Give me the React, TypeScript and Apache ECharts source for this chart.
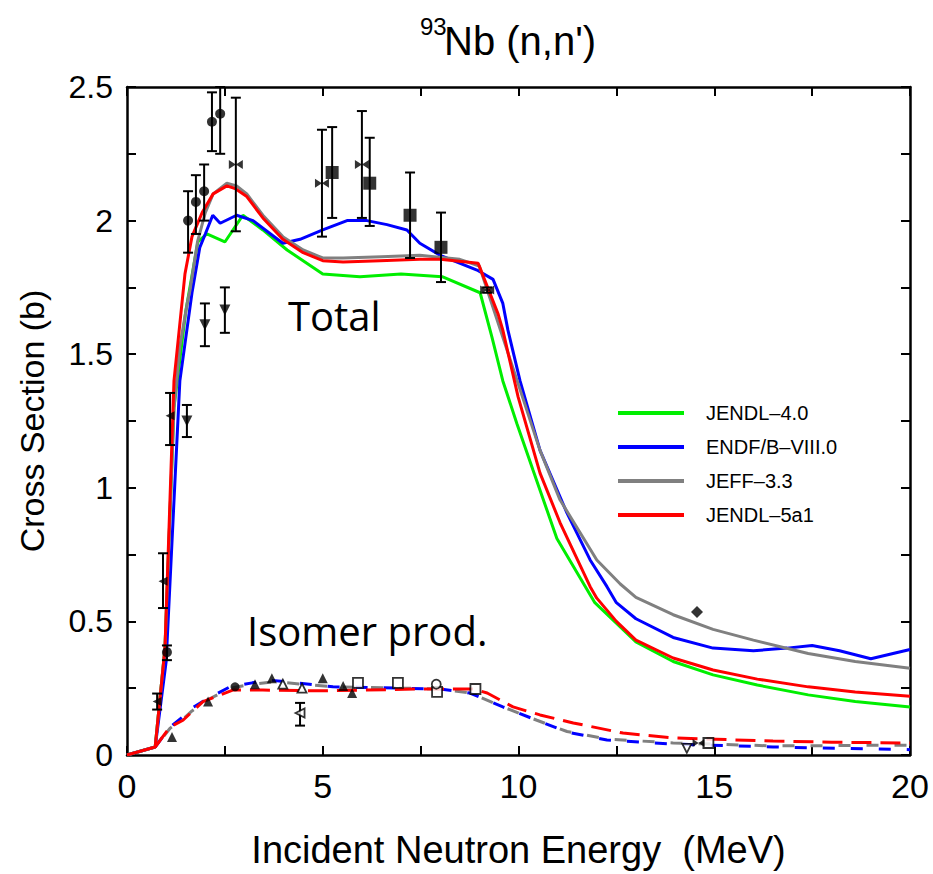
import React, { useEffect, useRef } from "react";
import * as echarts from "echarts";

// ---- Evaluated total (n,n') cross sections ----
const jendl4X = [0, 0.72, 0.97, 1.2, 1.5, 1.81, 2.04, 2.5, 2.96, 3.47, 4.09, 5.0, 5.95, 7.0, 8.05, 9.02, 9.32, 9.6, 9.96, 10.37, 10.98, 11.95, 13.0, 13.95, 14.97, 16.1, 17.4, 18.6, 20];
const jendl4Y = [0, 0.03, 0.4, 1.3, 1.66, 1.92, 1.95, 1.92, 2.02, 1.965, 1.89, 1.8, 1.79, 1.8, 1.79, 1.73, 1.565, 1.4, 1.24, 1.067, 0.81, 0.57, 0.423, 0.35, 0.3, 0.262, 0.225, 0.2, 0.18];

const endfX = [0, 0.72, 1.0, 1.35, 1.66, 1.86, 2.0, 2.19, 2.38, 2.8, 3.22, 3.98, 4.42, 5.0, 5.62, 6.13, 6.64, 7.15, 7.48, 8.0, 8.94, 9.35, 9.6, 9.73, 10.04, 10.55, 11.24, 11.83, 12.26, 12.5, 13.0, 13.95, 14.97, 16.0, 16.86, 17.5, 18.2, 19.0, 20];
const endfY = [0, 0.03, 0.35, 1.4, 1.73, 1.9, 1.95, 2.02, 1.99, 2.02, 2.0, 1.915, 1.93, 1.965, 2.0, 2.0, 1.985, 1.965, 1.915, 1.87, 1.815, 1.78, 1.69, 1.59, 1.4, 1.14, 0.905, 0.73, 0.63, 0.57, 0.51, 0.44, 0.4, 0.39, 0.4, 0.41, 0.39, 0.36, 0.395];

const jeffX = [0, 0.72, 0.97, 1.2, 1.35, 1.55, 1.61, 1.8, 2.0, 2.2, 2.55, 2.8, 3.06, 3.47, 3.98, 4.5, 5.0, 5.52, 6.5, 7.48, 8.5, 9.0, 9.9, 10.55, 11.06, 12.0, 12.6, 13.0, 13.95, 14.97, 16.0, 17.4, 18.6, 20];
const jeffY = [0, 0.03, 0.4, 1.3, 1.53, 1.7, 1.74, 1.92, 2.03, 2.1, 2.14, 2.13, 2.1, 2.02, 1.94, 1.89, 1.86, 1.86, 1.865, 1.87, 1.855, 1.83, 1.43, 1.14, 0.955, 0.73, 0.64, 0.59, 0.525, 0.47, 0.43, 0.38, 0.35, 0.325];

const jendl5X = [0, 0.72, 0.97, 1.2, 1.48, 1.66, 1.92, 2.2, 2.55, 2.76, 3.06, 3.47, 3.98, 4.5, 5.0, 5.52, 6.46, 7.48, 8.0, 8.97, 9.48, 9.6, 9.99, 10.55, 11.06, 11.83, 12.0, 12.5, 13.0, 13.95, 14.97, 16.1, 17.4, 18.6, 20];
const jendl5Y = [0, 0.03, 0.4, 1.4, 1.8, 1.94, 2.03, 2.1, 2.13, 2.12, 2.09, 2.01, 1.93, 1.88, 1.85, 1.845, 1.85, 1.855, 1.855, 1.84, 1.65, 1.59, 1.34, 1.055, 0.87, 0.63, 0.587, 0.5, 0.43, 0.363, 0.318, 0.284, 0.255, 0.236, 0.22];

// ---- Isomer production ----
const isoEndfX = [0.72, 1.1, 1.4, 1.66, 2.04, 2.63, 3.2, 3.65, 4.09, 5.26, 7.05, 8.0, 8.76, 9.6, 10.47, 11.24, 12.26, 13.95, 16.5, 20];
const isoEndfY = [0.03, 0.105, 0.14, 0.176, 0.21, 0.255, 0.27, 0.28, 0.274, 0.255, 0.25, 0.247, 0.232, 0.18, 0.13, 0.086, 0.056, 0.041, 0.03, 0.02];
const isoJeffX = [0.72, 1.1, 1.4, 1.66, 2.04, 2.63, 3.2, 3.65, 4.09, 5.26, 7.05, 8.0, 8.76, 9.6, 10.47, 11.24, 12.26, 13.95, 16.5, 20];
const isoJeffY = [0.03, 0.1, 0.13, 0.165, 0.205, 0.25, 0.265, 0.272, 0.27, 0.255, 0.25, 0.247, 0.232, 0.18, 0.13, 0.088, 0.06, 0.045, 0.034, 0.037];
const isoJendl5X = [0.72, 1.1, 1.43, 1.94, 2.7, 3.47, 4.93, 6.0, 7.48, 8.84, 9.2, 9.86, 10.55, 11.4, 12.67, 13.95, 14.8, 16.5, 18.0, 20];
const isoJendl5Y = [0.03, 0.105, 0.13, 0.2, 0.243, 0.243, 0.24, 0.243, 0.247, 0.247, 0.232, 0.18, 0.15, 0.12, 0.082, 0.064, 0.06, 0.052, 0.048, 0.045];

// ---- Experimental data: [E, sigma, low, high] ----
const expCircles = [[1.56, 2.0, 1.88, 2.11], [1.76, 2.07, 1.95, 2.17], [1.97, 2.11, 2.0, 2.21], [2.17, 2.37, 2.26, 2.48], [2.38, 2.4, 2.25, 2.5], [1.02, 0.385, 0.355, 0.41]];
const expDownTri = [[1.99, 1.61, 1.53, 1.69], [2.5, 1.665, 1.58, 1.75], [1.53, 1.25, 1.19, 1.31]];
const expBowtie = [[2.78, 2.21, 1.96, 2.46], [4.98, 2.14, 1.94, 2.34], [6.0, 2.21, 2.01, 2.41], [9.2, 1.74, 1.73, 1.75]];
const expSquares = [[5.24, 2.18, 2.01, 2.35], [6.2, 2.14, 1.98, 2.31], [7.23, 2.02, 1.86, 2.18], [8.02, 1.9, 1.77, 2.03]];
const expLeftTri = [[1.1, 1.27, 1.16, 1.355], [0.92, 0.65, 0.55, 0.755], [0.77, 0.2, 0.17, 0.23]];
const expDiamond = [[14.56, 0.535]];

const isoTriFilled = [[1.15, 0.067], [2.07, 0.2], [3.27, 0.265], [3.7, 0.287], [5.0, 0.287], [5.52, 0.258], [5.75, 0.232]];
const isoTriOpen = [[3.98, 0.265], [4.47, 0.25]];
const isoLeftTriOpen = [[4.42, 0.157, 0.11, 0.195]];
const isoCircleFilled = [[2.76, 0.255]];
const isoSquareOpen = [[5.9, 0.27], [6.92, 0.27], [7.92, 0.236], [8.9, 0.247], [14.85, 0.045]];
const isoCircleOpen = [[7.9, 0.265]];
const isoDownTriOpen = [[14.3, 0.025]];
const isoBowtie = [[14.6, 0.045]];

const legendNames = ["JENDL\u20134.0", "ENDF/B\u2013VIII.0", "JEFF\u20133.3", "JENDL\u20135a1"];

const zip = (xs: number[], ys: number[]) => xs.map((x, i) => [x, ys[i]]);
const BOWTIE = "path://M0,0L10,5L0,10Z M20,0L10,5L20,10Z";
const ARIAL = "Liberation Sans, Arial, sans-serif";

export default function App() {
  const ref = useRef<HTMLDivElement>(null);
  useEffect(() => {
    if (!ref.current) return;
    const chart = echarts.init(ref.current, undefined, { renderer: "svg" });

    const errRender = (params: any, api: any) => {
      const x = api.value(0);
      const lo = api.value(2);
      const hi = api.value(3);
      const p1 = api.coord([x, lo]);
      const p2 = api.coord([x, hi]);
      const w = 5;
      const st = { stroke: "#000", lineWidth: 2 };
      return {
        type: "group",
        children: [
          { type: "line", shape: { x1: p1[0], y1: p1[1], x2: p2[0], y2: p2[1] }, style: st },
          { type: "line", shape: { x1: p1[0] - w, y1: p1[1], x2: p1[0] + w, y2: p1[1] }, style: st },
          { type: "line", shape: { x1: p2[0] - w, y1: p2[1], x2: p2[0] + w, y2: p2[1] }, style: st },
        ],
      };
    };

    const lineSeries = (name: string, xs: number[], ys: number[], color: string, z: number) => ({
      name,
      type: "line",
      data: zip(xs, ys),
      showSymbol: false,
      symbol: "none",
      lineStyle: { color, width: 3 },
      itemStyle: { color },
      z,
      silent: true,
    });
    const dashSeries = (name: string, xs: number[], ys: number[], color: string, dash: number[], offset: number, z: number) => ({
      name,
      type: "line",
      data: zip(xs, ys),
      showSymbol: false,
      symbol: "none",
      lineStyle: { color, width: 3, type: dash, dashOffset: offset },
      itemStyle: { color },
      z,
      silent: true,
    });
    const errSeries = (data: number[][]) => ({
      type: "custom",
      renderItem: errRender,
      data,
      encode: { x: 0, y: 1 },
      z: 5,
      silent: true,
    });
    const marker = (data: number[][], symbol: string, size: any, rotate: number, open: boolean) => ({
      type: "scatter",
      data: data.map((d) => [d[0], d[1]]),
      symbol,
      symbolSize: size,
      symbolRotate: rotate,
      itemStyle: open
        ? { color: "#fff", borderColor: "#000", borderWidth: 1.8 }
        : { color: "#000", borderColor: "#000", borderWidth: 0 },
      z: 6,
      silent: true,
    });

    const axisCommon = {
      axisLine: { show: true, onZero: false, lineStyle: { color: "#000", width: 2.5 } },
      axisTick: { show: true, inside: true, length: 9, lineStyle: { color: "#000", width: 2 } },
      minorTick: { show: true, splitNumber: 2, length: 9, lineStyle: { color: "#000", width: 2 } },
      splitLine: { show: false },
      minorSplitLine: { show: false },
    };

    chart.setOption({
      animation: false,
      backgroundColor: "#fff",
      grid: { left: 127, right: 23, top: 87, bottom: 119, containLabel: false },
      xAxis: [
        {
          type: "value",
          min: 0,
          max: 20,
          interval: 5,
          position: "bottom",
          ...axisCommon,
          axisLabel: { color: "#000", fontSize: 34, fontFamily: ARIAL, margin: 14 },
          name: "Incident Neutron Energy  (MeV)",
          nameLocation: "middle",
          nameGap: 76,
          nameTextStyle: { color: "#000", fontSize: 38, fontFamily: ARIAL },
        },
        {
          type: "value",
          min: 0,
          max: 20,
          interval: 5,
          position: "top",
          ...axisCommon,
          axisLabel: { show: false },
        },
      ],
      yAxis: [
        {
          type: "value",
          min: 0,
          max: 2.5,
          interval: 0.5,
          position: "left",
          ...axisCommon,
          axisLabel: { color: "#000", fontSize: 32, fontFamily: ARIAL, margin: 14 },
          name: "Cross Section (b)",
          nameLocation: "middle",
          nameGap: 78,
          nameRotate: 90,
          nameTextStyle: { color: "#000", fontSize: 34, fontFamily: ARIAL },
        },
        {
          type: "value",
          min: 0,
          max: 2.5,
          interval: 0.5,
          position: "right",
          ...axisCommon,
          axisLabel: { show: false },
        },
      ],
      legend: {
        data: legendNames,
        orient: "vertical",
        left: 613,
        top: 397,
        itemWidth: 66,
        itemHeight: 4,
        itemGap: 12,
        icon: "rect",
        selectedMode: false,
        textStyle: { color: "#000", fontSize: 20, fontFamily: ARIAL, lineHeight: 22, padding: [0, 0, 0, 17] },
      },
      graphic: [
        {
          type: "text",
          x: 420,
          y: 26,
          style: { text: "93", font: "24px 'Liberation Sans', Arial, sans-serif", fill: "#000", textAlign: "left", textVerticalAlign: "middle" },
        },
        {
          type: "text",
          x: 444,
          y: 41,
          style: { text: "Nb (n,n')", font: "40px 'Liberation Sans', Arial, sans-serif", fill: "#000", textAlign: "left", textVerticalAlign: "middle" },
        },
        {
          type: "text",
          x: 288,
          y: 315,
          style: { text: "Total", font: "40px 'Open Sans', Lato, sans-serif", fill: "#000", textAlign: "left", textVerticalAlign: "middle" },
        },
        {
          type: "text",
          x: 247,
          y: 630,
          style: { text: "Isomer prod.", font: "40px 'Open Sans', Lato, sans-serif", fill: "#000", textAlign: "left", textVerticalAlign: "middle" },
        },
      ],
      series: [
        lineSeries(legendNames[0], jendl4X, jendl4Y, "#00ee00", 2),
        lineSeries(legendNames[1], endfX, endfY, "#0000ff", 3),
        lineSeries(legendNames[2], jeffX, jeffY, "#808080", 4),
        lineSeries(legendNames[3], jendl5X, jendl5Y, "#ff0000", 4),
        dashSeries("ENDF iso", isoEndfX, isoEndfY, "#0000ff", [12, 16], 0, 3),
        dashSeries("JEFF iso", isoJeffX, isoJeffY, "#808080", [12, 16], 14, 3),
        dashSeries("JENDL5 iso", isoJendl5X, isoJendl5Y, "#ff0000", [20, 9], 0, 4),
        errSeries(expCircles),
        errSeries(expDownTri),
        errSeries(expBowtie),
        errSeries(expSquares),
        errSeries(expLeftTri),
        errSeries(isoLeftTriOpen),
        marker(expCircles, "circle", 10, 0, false),
        marker(expDownTri, "triangle", 11, 180, false),
        marker(expBowtie, BOWTIE, [14, 9], 0, false),
        marker(expSquares, "rect", 13, 0, false),
        marker(expLeftTri, "triangle", 9, 90, false),
        marker(expDiamond, "diamond", 12, 0, false),
        marker(isoTriFilled, "triangle", 10, 0, false),
        marker(isoTriOpen, "triangle", 9, 0, true),
        marker(isoLeftTriOpen, "triangle", 9, 90, true),
        marker(isoCircleFilled, "circle", 9, 0, false),
        marker(isoSquareOpen, "rect", 10, 0, true),
        marker(isoCircleOpen, "circle", 9, 0, true),
        marker(isoDownTriOpen, "triangle", 9, 180, true),
        marker(isoBowtie, BOWTIE, [12, 8], 0, false),
      ],
    });
    return () => chart.dispose();
  }, []);
  return <div ref={ref} style={{ position: "absolute", left: 0, top: 0, width: 933, height: 874 }} />;
}
